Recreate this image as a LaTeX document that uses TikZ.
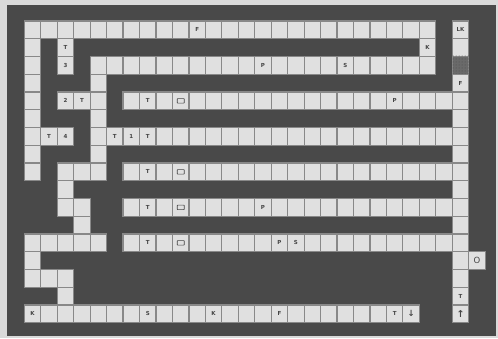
\documentclass[tikz,border=0pt]{standalone}
\usepackage{fontspec}
\usetikzlibrary{patterns}
\newfontfamily\lblfont{DejaVu Sans}
\definecolor{outerbg}{HTML}{DADADA}
\definecolor{board}{HTML}{494949}
\definecolor{cellfill}{HTML}{E0E0E0}
\definecolor{cellline}{HTML}{888888}
\definecolor{lblcol}{HTML}{454545}
\definecolor{shadecell}{HTML}{6A6A6A}
\tikzset{
  cell/.style={draw=cellline, fill=cellfill, line width=1.2pt, minimum width=16.46pt, minimum height=17.75pt, inner sep=0pt},
  darkcell/.style={cell, fill=shadecell, draw=cellline},
  lbl/.style={text=lblcol, font=\lblfont\bfseries\fontsize{5.5}{6}\selectfont, inner sep=0pt},
  biglbl/.style={text=lblcol, font=\lblfont\fontsize{8.5}{9}\selectfont, inner sep=0pt},
  arrowlbl/.style={text=lblcol, font=\lblfont\bfseries\fontsize{8.5}{9}\selectfont, inner sep=0pt},
  boxsym/.style={draw=lblcol, line width=0.7pt, rounded corners=0.5pt, minimum width=7pt, minimum height=4.5pt, inner sep=0pt},
}
\newcommand\cellrow[2]{\foreach \c in {#2} \node[cell] (c\c r#1) at ({32.53+16.46*\c},{29.875+17.75*#1}) {};}
\begin{document}
\begin{tikzpicture}[x=1pt,y=-1pt]
\useasboundingbox (0,0) rectangle (498,338);
\fill[outerbg] (0,0) rectangle (498,338);
\fill[board] (7,5) rectangle (496,336);
\cellrow{0}{0,1,...,24,26}
\cellrow{1}{0,2,24,26}
\cellrow{2}{0,2,4,5,...,24}
\node[darkcell] (c26r2) at ({32.53+16.46*26},{29.875+17.75*2}) {};
\fill[pattern=dots, pattern color=board] (c26r2.south west) rectangle (c26r2.north east);
\cellrow{3}{0,4,26}
\cellrow{4}{0,2,3,4,6,7,...,26}
\cellrow{5}{0,4,26}
\cellrow{6}{0,1,2,4,5,...,26}
\cellrow{7}{0,4,26}
\cellrow{8}{0,2,3,4,6,7,...,26}
\cellrow{9}{2,26}
\cellrow{10}{2,3,6,7,...,26}
\cellrow{11}{3,26}
\cellrow{12}{0,1,...,4,6,7,...,26}
\cellrow{13}{0,26,27}
\cellrow{14}{0,1,2,26}
\cellrow{15}{2,26}
\cellrow{16}{0,1,...,23,26}
% labels
\foreach \c/\r/\t in {10/0/F, 26/0/LK, 2/1/T, 24/1/K, 2/2/3, 14/2/P, 19/2/S, 26/3/F,
  2/4/2, 3/4/T, 7/4/T, 22/4/P, 1/6/T, 2/6/4, 5/6/T, 6/6/1, 7/6/T,
  7/8/T, 7/10/T, 14/10/P, 7/12/T, 15/12/P, 16/12/S, 26/15/T,
  0/16/K, 7/16/S, 11/16/K, 15/16/F, 22/16/T}
  \node[lbl] (L\c r\r) at (c\c r\r.center) {\t};
\foreach \r in {4,8,10,12}
  \node[boxsym] (B9r\r) at (c9r\r.center) {};
\node[arrowlbl] (L23r16) at (c23r16.center) {↓};
\node[biglbl] (L27r13) at (c27r13.center) {O};
\node[arrowlbl, font=\lblfont\bfseries\fontsize{9.5}{10}\selectfont] (L26r16) at (c26r16.center) {↑};
\end{tikzpicture}
\end{document}
